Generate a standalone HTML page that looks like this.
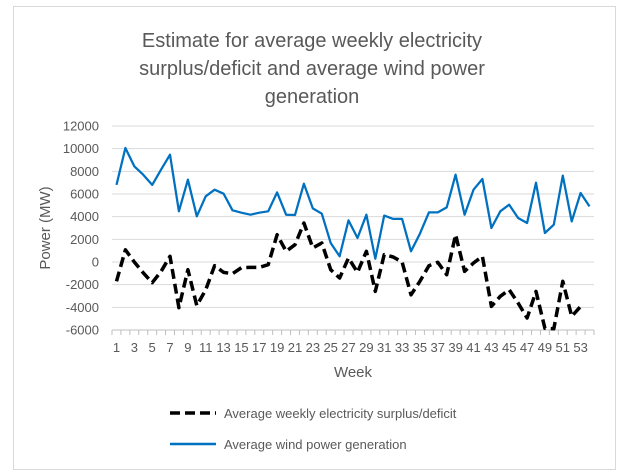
<!DOCTYPE html>
<html><head><meta charset="utf-8"><style>
body{margin:0;background:#fff;}
svg{display:block;font-family:"Liberation Sans",sans-serif;}
</style></head><body>
<svg id="chart" width="622" height="476" viewBox="0 0 622 476">
<rect x="13.5" y="6.5" width="602" height="463" fill="#fff" stroke="#d9d9d9"/>
<g fill="#595959" font-size="20" text-anchor="middle">
<text x="312" y="47">Estimate for average weekly electricity</text>
<text x="312" y="75">surplus/deficit and average wind power</text>
<text x="312" y="103">generation</text>
</g>
<g id="grid"></g>
<g id="yticks" fill="#595959" font-size="13" text-anchor="end"></g>
<g id="xaxis"></g>
<g id="series"></g>
<text x="50" y="228" transform="rotate(-90 50 228)" text-anchor="middle" fill="#595959" font-size="15">Power (MW)</text>
<text x="353" y="377" text-anchor="middle" fill="#595959" font-size="15">Week</text>
<g>
<g>
<line x1="170" y1="413" x2="216" y2="413" stroke="#000" stroke-width="3.5" stroke-dasharray="10,5"/>
<text x="224" y="418" fill="#595959" font-size="13">Average weekly electricity surplus/deficit</text>
</g>
<g>
<line x1="170" y1="444" x2="216" y2="444" stroke="#0070c0" stroke-width="2.5"/>
<text x="224" y="449" fill="#595959" font-size="13">Average wind power generation</text>
</g>
</g>
</svg>
<script>
const weeks = Array.from({length:54},(_,i)=>i+1);
const yTicks = [12000,10000,8000,6000,4000,2000,0,-2000,-4000,-6000];
const wind = [6800,10060,8440,7700,6800,8150,9470,4470,7260,4030,5800,6380,6030,4560,4350,4170,4350,4470,6140,4170,4150,6910,4730,4260,1680,500,3670,2120,4170,290,4090,3800,3800,940,2500,4380,4380,4820,7700,4170,6380,7320,3000,4470,5060,3880,3440,7000,2560,3290,7620,3580,6090,4910];
const surplus = [-1700,1080,0,-950,-1830,-830,500,-4030,-680,-3850,-2450,-330,-920,-1030,-500,-480,-480,-240,2410,940,1530,3440,1240,1680,-680,-1410,350,-920,940,-2590,650,440,0,-2890,-1700,-330,-30,-1120,2410,-830,-90,500,-3920,-3030,-2450,-3620,-4940,-2590,-5850,-5890,-1700,-4800,-3920,null];

const X0=112, X1=594, Y0=126, Y1=330, YMAX=12000, YMIN=-6000;
const n=weeks.length, bw=(X1-X0)/n;
const xs=i=>X0+(i+0.5)*bw;
const ys=v=>Y0+(YMAX-v)/(YMAX-YMIN)*(Y1-Y0);
const NS="http://www.w3.org/2000/svg";
function mk(tag,attrs,parent){const e=document.createElementNS(NS,tag);for(const k in attrs)e.setAttribute(k,attrs[k]);parent.appendChild(e);return e;}
const grid=document.getElementById('grid'), yt=document.getElementById('yticks'), xa=document.getElementById('xaxis'), se=document.getElementById('series');
yTicks.forEach(v=>{
  const l=mk('line',{x1:X0,x2:X1,y1:ys(v),y2:ys(v),stroke:v===YMIN?'#bfbfbf':'#d9d9d9','stroke-width':1},grid);
  
  
  const t=mk('text',{x:99,y:ys(v)+4.5},yt);t.textContent=v;
  
  
});
for(let i=0;i<=n;i++){
  const t=mk('line',{x1:X0+i*bw,x2:X0+i*bw,y1:Y1,y2:Y1+5,stroke:'#bfbfbf'},xa);
  
  
}
weeks.forEach((w,i)=>{ if(w%2===1){
  const t=mk('text',{x:xs(i),y:Y1+22,'text-anchor':'middle',fill:'#595959','font-size':13},xa);t.textContent=w;
  
  
}});
function path(arr){let d='';let pen=false;arr.forEach((v,i)=>{if(v===null){pen=false;return;}d+=(pen?'L':'M')+xs(i).toFixed(1)+','+ys(v).toFixed(1);pen=true;});return d;}
const pw=mk('path',{d:path(wind),fill:'none',stroke:'#0070c0','stroke-width':2.25,'stroke-linejoin':'round'},se);


const ps=mk('path',{d:path(surplus),fill:'none',stroke:'#000','stroke-width':3.5,'stroke-dasharray':'10,5','stroke-linejoin':'round'},se);


</script>
</body></html>
